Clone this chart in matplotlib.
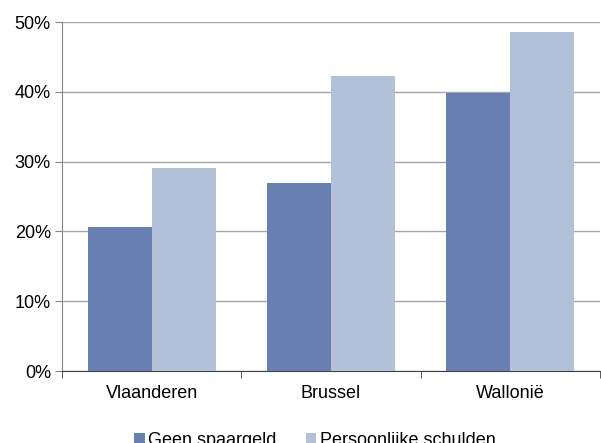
import numpy as np
import matplotlib.pyplot as plt
from matplotlib.ticker import FuncFormatter

plt.rcParams['font.family'] = ['Liberation Sans', 'DejaVu Sans']

regios = ['Vlaanderen', 'Brussel', 'Wallonië']
geen_spaargeld = [20.6, 26.9, 39.8]
persoonlijke_schulden = [29.1, 42.3, 48.6]

donker = '#6780B1'
licht = '#B3C1D8'

fig = plt.figure(figsize=(6.01, 4.43), dpi=100)
ax = fig.add_axes([0.1032, 0.1625, 0.895, 0.7878])

x = np.arange(len(regios))
w = 0.357
ax.bar(x - w/2, geen_spaargeld, w, color=donker, label='Geen spaargeld', zorder=3)
ax.bar(x + w/2, persoonlijke_schulden, w, color=licht, label='Persoonlijke schulden', zorder=3)

ax.set_xlim(-0.5, len(regios) - 0.5)
ax.set_ylim(0, 50)
ax.set_yticks(range(0, 51, 10))
ax.yaxis.set_major_formatter(FuncFormatter(lambda v, p: f'{int(v)}%'))
ax.yaxis.grid(True, color='#A6A6A6', linewidth=1, zorder=0)

ax.set_xticks(x)
ax.set_xticklabels(regios)
ax.set_xticks(np.arange(-0.5, len(regios)), minor=True)
ax.tick_params(axis='x', which='major', length=0, pad=10, labelsize=13)
ax.tick_params(axis='x', which='minor', length=5, direction='out', color='#404040')
ax.tick_params(axis='y', length=5, direction='out', color='#868686', labelsize=13, pad=3)

for s in ['top', 'right']:
    ax.spines[s].set_visible(False)
ax.spines['left'].set_color('#868686')
ax.spines['bottom'].set_color('#404040')

ax.legend(loc='center', bbox_to_anchor=(0.47, -0.2), ncol=2, frameon=False,
          fontsize=13, handlelength=0.6, handleheight=0.6, handletextpad=0.2,
          columnspacing=1.6)

plt.savefig('out.png', dpi=100)
